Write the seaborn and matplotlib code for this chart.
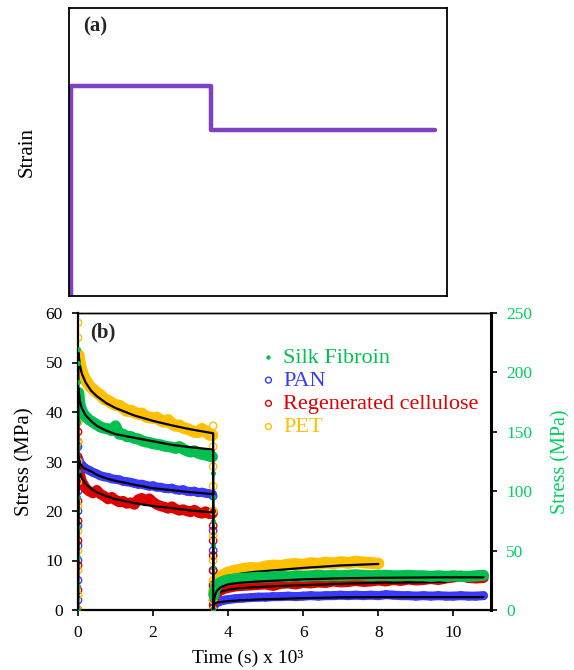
import numpy as np
import pandas as pd
import matplotlib
matplotlib.use("Agg")
import matplotlib.pyplot as plt
import seaborn as sns

sns.set_theme(style="white")
plt.rcParams["font.family"] = ["Liberation Serif", "DejaVu Serif"]

NAN = np.nan

# ---------------- strain programme (panel a) ----------------
strain_t = [0, 0, 3.6, 3.6, 9.35]
strain_v = [0, 1.0, 1.0, 0.79, 0.79]

# ---------------- stress response (panel b) ----------------
# time grids, x 10^3 s
t_relax = [0.02, 0.05, 0.1, 0.15, 0.2, 0.3, 0.4, 0.5, 0.6, 0.7, 0.8, 0.9, 1.0,
           1.1, 1.2, 1.3, 1.4, 1.5, 1.6, 1.7, 1.8, 1.9, 2.0, 2.1, 2.2, 2.3,
           2.4, 2.5, 2.6, 2.7, 2.8, 2.9, 3.0, 3.1, 3.2, 3.3, 3.4, 3.5, 3.58]
t_recover = [3.62, 3.65, 3.7, 3.8, 3.9, 4.0, 4.2, 4.4, 4.6, 4.8, 5.0, 5.2,
             5.4, 5.6, 5.8, 6.0, 6.2, 6.4, 6.6, 6.8, 7.0, 7.2, 7.4, 7.6, 7.8,
             8.0, 8.2, 8.4, 8.6, 8.8, 9.0, 9.2, 9.4, 9.6, 9.8, 10.0, 10.2,
             10.4, 10.6, 10.8]
t_fit_relax = [0, 0.01, 0.05, 0.1, 0.2, 0.35, 0.5, 0.75, 1.0, 1.5, 2.0, 2.5,
               3.0, 3.6, 3.6]
t_fit_recover = [3.62, 3.65, 3.7, 3.8, 4.0, 4.3, 4.7, 5.2, 6.0, 7.0, 8.0, 9.0,
                 9.8, 10.8]
t_load = 0.0
t_unload = 3.6

# Silk fibroin (right axis, MPa)
silk_load = [0, 20, 45, 70, 95, 117, 137, 158, 175, 192, 208, 220]
silk_relax = [183, 173, 168, 165, 163, 160, 158, 156, 154, 153, 152.5, 151,
              155, 148, 148, 146, 146, 144.5, 144, 142.5, 141.5, 141, 140,
              139.5, 139, 138, 137.5, 137, 136, 137.5, 135.5, 134, 133, 134,
              132, 131, 130.5, 129.5, 129]
silk_unload = [130, 115, 95, 75, 55, 35, 20, 8, 0]
silk_recover = [12.5, 17.5, 20.8, 23.3, 24.6, 25.4, 26.3, 26.7, 27.1, 27.5,
                27.5, 27.9, 28.3, 27.9, 28.8, 28.3, 28.8, 29.2, 28.8, 29.2,
                28.8, 29.2, 29.6, 29.2, 28.8, 29.2, 29.2, 28.8, 28.8, 29.2,
                28.8, 28.8, 28.3, 28.8, 28.3, 28.8, 28.3, 28.3, 28.8, 29.2]
silk_fit_relax = [0, 187, 176, 170, 164, 159, 155, 151, 148, 145, 142, 139,
                  137, 135, 0]
silk_fit_recover = [8.3, 12.5, 16.3, 19.2, 21.7, 22.9, 23.8, 24.6, 25.8, 26.7,
                    27.1, 27.3, 27.5, 27.5]

# PAN (left axis, MPa)
pan_load = [0, 2, 6, 10, 13, 17, 20, 24, 28, 33, 38, 41]
pan_relax = [30.5, 29.8, 29.3, 28.9, 28.6, 28.2, 27.8, 27.5, 27.1, 26.9, 26.8,
             26.5, 26.4, 26.3, 26.0, 25.9, 25.8, 25.6, 25.4, 25.4, 25.2, 25.0,
             25.1, 24.8, 24.8, 24.6, 24.5, 24.6, 24.3, 24.2, 24.3, 24.0, 23.9,
             24.0, 23.7, 23.8, 23.6, 23.5, 23.4]
pan_unload = [23, 20, 16, 12, 8, 5, 2, 0]
pan_recover = [0.8, 1.2, 1.5, 1.8, 2.0, 2.1, 2.3, 2.4, 2.5, 2.6,
               2.6, 2.7, 2.7, 2.8, 2.7, 2.8, 2.9, 2.8, 2.9, 2.9,
               3.0, 2.9, 3.0, 2.9, 3.0, 2.9, 3.1, 3.0, 2.9, 2.9,
               2.8, 2.9, 2.8, 2.9, 2.8, 2.8, 2.9, 2.8, 2.8, 2.9]
pan_fit_relax = [0, 31, 29.7, 29.0, 28.5, 28.0, 27.3, 26.6, 26.1, 25.3, 24.6,
                 24.2, 23.8, 23.4, 0]
pan_fit_recover = [1.2, 1.4, 1.5, 1.6, 1.8, 1.95, 2.1, 2.2, 2.4, 2.55, 2.6,
                   2.6, 2.6, 2.6]

# Regenerated cellulose (left axis, MPa)
cell_load = [0, 4, 9, 14, 18, 22, 25, 27, 29, 31, 34, 36, 39]
cell_relax = [29.0, 27.3, 25.9, 25.3, 24.6, 24.0, 23.6, 24.2, 23.4, 23.0,
              22.4, 22.8, 22.2, 21.8, 22.0, 21.5, 21.7, 21.3, 22.3, 22.6,
              22.0, 22.5, 21.8, 21.3, 21.0, 20.8, 20.5, 20.9, 20.4, 20.1,
              20.3, 20.0, 19.8, 20.2, 19.7, 19.5, 19.9, 19.4, 19.5]
cell_unload = [19.5, 17, 14, 11, 8, 5, 3, 1, 0]
cell_recover = [2.0, 2.8, 3.5, 4.0, 4.3, 4.5, 4.8, 4.9, 5.0, 5.1,
                5.2, 4.9, 5.3, 5.4, 5.2, 5.5, 5.4, 5.6, 5.5, 5.8,
                5.6, 5.7, 5.9, 5.7, 5.8, 6.0, 5.8, 6.1, 5.9, 6.2,
                6.0, 6.1, 6.3, 6.1, 6.4, 6.6, 6.9, 6.5, 6.4, 6.5]
cell_fit_relax = [0, 30, 27.7, 26.6, 25.5, 24.5, 23.8, 23.0, 22.4, 21.6, 21.0,
                  20.6, 20.1, 19.7, 0]
cell_fit_recover = [1.5, 2.3, 3.2, 3.7, 4.1, 4.4, 4.6, 4.8, 5.0, 5.3, 5.5,
                    5.6, 5.7, NAN]

# PET (left axis, MPa)
pet_load = [0, 3, 8, 12, 16, 21, 26, 30, 34, 38, 42, 44, 48, 52, 55, 58]
pet_relax = [51.5, 49.8, 48.3, 47.2, 46.5, 45.3, 44.6, 43.9, 43.4, 42.6, 42.3,
             41.8, 41.4, 41.3, 40.8, 40.2, 40.3, 39.9, 39.6, 39.7, 39.1, 38.9,
             38.8, 38.9, 38.3, 38.0, 38.4, 37.6, 37.2, 37.3, 36.8, 36.6, 36.3,
             36.0, 35.9, 36.6, 36.1, 35.4, 35.3]
pet_unload = [37.2, 33, 29, 25, 20, 15, 10, 6, 2, 0]
pet_recover = [3.5, 5.0, 6.0, 6.8, 7.2, 7.6, 8.0, 8.3, 8.5, 8.4,
               8.8, 9.0, 8.9, 9.2, 9.3, 9.1, 9.5, 9.3, 9.6, 9.4,
               9.7, 9.5, 9.8, 9.6, 9.5, 9.4, NAN, NAN, NAN, NAN,
               NAN, NAN, NAN, NAN, NAN, NAN, NAN, NAN, NAN, NAN]
pet_fit_relax = [0, 52, 49.5, 47.8, 46.0, 44.3, 43.2, 41.8, 40.8, 39.3, 38.2,
                 37.3, 36.5, 35.7, 0]
pet_fit_recover = [2.5, 3.8, 4.8, 5.7, 6.6, 7.3, 7.7, 8.0, 8.5, 9.0, 9.3,
                   NAN, NAN, NAN]

GREEN = "#00C050"
BLUE = "#3A3AFF"
RED = "#E00000"
YELLOW = "#FFC000"
PURPLE = "#8040C4"
AXIS_GREEN = "#00D060"


def draw_material(ax, label, color, load, relax, unload, recover,
                  fit_relax, fit_recover, open_marker=True, size=28, band=7.5):
    # dense measurement band
    for tt, vv in ((t_relax, relax), (t_recover, recover)):
        pts_band = pd.DataFrame({"t": tt, "v": vv}).dropna()
        sns.lineplot(data=pts_band, x="t", y="v", ax=ax, color=color, lw=band,
                     estimator=None, sort=False, legend=False, zorder=2)
    # individual measured points, including the loading/unloading ramps
    pts = pd.DataFrame({
        "t": [t_load] * len(load) + t_relax + [t_unload] * len(unload) + t_recover,
        "v": load + relax + unload + recover,
    }).dropna()
    if open_marker:
        sns.scatterplot(data=pts, x="t", y="v", ax=ax, marker="o", s=size,
                        color=color, facecolor="none", edgecolor=color,
                        linewidth=1.0, label=label, zorder=3)
    else:
        sns.scatterplot(data=pts, x="t", y="v", ax=ax, marker="o", s=size,
                        color=color, edgecolor=color, linewidth=0.5,
                        label=label, zorder=3)
    # model fit
    fit = pd.DataFrame({"t": t_fit_relax + t_fit_recover,
                        "v": fit_relax + fit_recover}).dropna()
    sns.lineplot(data=fit, x="t", y="v", ax=ax, color="black", lw=1.6,
                 estimator=None, sort=False, legend=False, zorder=4)


fig = plt.figure(figsize=(5.74, 6.70), dpi=100)

# ---------------- panel (a) ----------------
ax_a = fig.add_axes([69 / 574, 1 - 296 / 670, 378 / 574, 288 / 670])
sns.lineplot(x=strain_t, y=strain_v, ax=ax_a, color=PURPLE, lw=3.2,
             estimator=None, sort=False, legend=False)
ax_a.set_xlim(-0.04, 9.65)
ax_a.set_ylim(0, 1.37)
ax_a.set_xticks([])
ax_a.set_yticks([])
ax_a.set_xlabel("")
ax_a.set_ylabel("Strain", fontsize=15, color="black")
ax_a.yaxis.set_label_coords(-0.085, 0.5)
for s in ax_a.spines.values():
    s.set_color("black")
    s.set_linewidth(1.3)
ax_a.text(0.037, 0.935, "(a)", transform=ax_a.transAxes, fontsize=15,
          fontweight="bold", ha="left", va="center")

# ---------------- panel (b) ----------------
ax_b = fig.add_axes([78 / 574, 1 - 610 / 670, 413 / 574, 297 / 670])
ax_r = ax_b.twinx()

draw_material(ax_b, "PAN", BLUE, pan_load, pan_relax, pan_unload, pan_recover,
              pan_fit_relax, pan_fit_recover, band=6.5)
draw_material(ax_b, "Regenerated cellulose", RED, cell_load, cell_relax,
              cell_unload, cell_recover, cell_fit_relax, cell_fit_recover)
draw_material(ax_b, "PET", YELLOW, pet_load, pet_relax, pet_unload,
              pet_recover, pet_fit_relax, pet_fit_recover, band=8.5)
draw_material(ax_r, "Silk Fibroin", GREEN, silk_load, silk_relax, silk_unload,
              silk_recover, silk_fit_relax, silk_fit_recover,
              open_marker=False, size=10, band=8)

ax_b.set_xlim(0, 11)
ax_b.set_ylim(0, 60)
ax_r.set_ylim(0, 250)
ax_b.set_xticks([0, 2, 4, 6, 8, 10])
ax_b.set_yticks(range(0, 61, 10))
ax_r.set_yticks(range(0, 251, 50))

ax_b.tick_params(axis="both", direction="out", length=4, width=1.2,
                 color="black", labelsize=12.5, pad=7, labelcolor="black",
                 left=True, bottom=True)
ax_r.tick_params(axis="y", direction="out", length=4, width=1.2,
                 color="black", labelsize=12.5, pad=7, labelcolor=AXIS_GREEN,
                 right=True)

ax_b.set_xlabel("Time (s) x 10³", fontsize=14, color="black")
ax_b.xaxis.set_label_coords(0.41, -0.135)
ax_b.set_ylabel("Stress (MPa)", fontsize=15, color="black")
ax_b.yaxis.set_label_coords(-0.105, 0.5)
ax_r.set_ylabel("Stress (MPa)", fontsize=14.5, color=AXIS_GREEN)
ax_r.yaxis.set_label_coords(1.145, 0.5)

for s in ax_b.spines.values():
    s.set_color("black")
ax_b.spines["top"].set_linewidth(1.0)
ax_b.spines["left"].set_linewidth(1.6)
ax_b.spines["bottom"].set_linewidth(1.6)
for s in ax_r.spines.values():
    s.set_color("black")
ax_r.spines["right"].set_linewidth(2.2)
ax_r.spines["top"].set_linewidth(1.0)

ax_b.text(0.029, 0.936, "(b)", transform=ax_b.transAxes, fontsize=15,
          fontweight="bold", ha="left", va="center")

# combined legend, coloured text
h_b, l_b = ax_b.get_legend_handles_labels()
h_r, l_r = ax_r.get_legend_handles_labels()
if ax_b.get_legend() is not None:
    ax_b.get_legend().remove()
if ax_r.get_legend() is not None:
    ax_r.get_legend().remove()
handles = h_r + h_b
labels = l_r + l_b
ax_r.legend(handles, labels, loc="upper left", bbox_to_anchor=(0.445, 0.885),
            frameon=False, fontsize=16, handlelength=0.6, handletextpad=0.35,
            labelspacing=0.12, borderpad=0, borderaxespad=0,
            labelcolor=[GREEN, BLUE, RED, YELLOW], markerscale=0.8)

fig.savefig("out.png", dpi=100)
